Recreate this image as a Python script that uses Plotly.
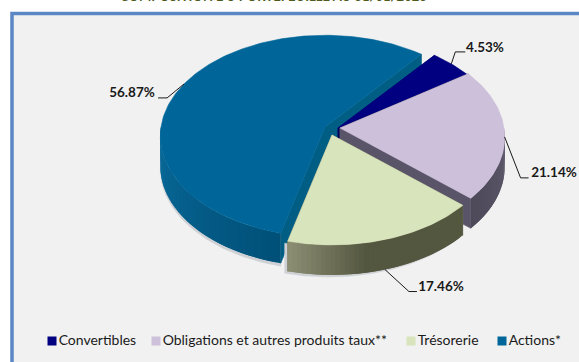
import math
import plotly.graph_objects as go

# Portfolio composition
categories = ["Convertibles", "Obligations et autres produits taux**", "Trésorerie", "Actions*"]
shares = [4.53, 21.14, 17.46, 56.87]
share_labels = ["4.53%", "21.14%", "17.46%", "56.87%"]
top_colors = ["#000080", "#CCC0DA", "#D8E4BC", "#006699"]

# Wall shading: (start, end) colours along the rim, and the flat radial wall colour
rim_shades = [("#000060", "#000050"), ("#5F596D", "#4E4A5A"), ("#54573F", "#8C8F74"), ("#005078", "#0A6C9C")]
radial_walls = ["#000060", "#5A5468", "#6F7158", "#005E85"]

# Pie geometry in page pixels
START_ANGLE = 39.0
RX, RY, PERSPECTIVE, DEPTH = 164, 100, 0.09, 30
apexes = [(338, 128), (340, 128), (332, 135), (325, 127)]

# Leader elbows and label anchors, in the same order as categories
leader_offsets = [[(4, -12), (14, -12)], [(16, 41), (24, 41)], [(24, 22), (32, 22)], [(-17, 14), (-26, 14)]]
label_pos = [(485, 49), (554, 174), (441, 288), (132, 94)]

legend_x = [52, 156, 411, 502]
LEGEND_Y = 341


def project(apex, angle_deg, z=0.0, radius=1.0):
    a = math.radians(angle_deg)
    u, v = radius * math.sin(a), radius * math.cos(a)
    s = 1 / (1 + PERSPECTIVE * v)
    return apex[0] + RX * u * s, apex[1] - RY * v * s + DEPTH * z


def arc(apex, a0, a1, z=0.0):
    n = max(2, int(abs(a1 - a0)))
    return [project(apex, a0 + (a1 - a0) * i / n, z) for i in range(n + 1)]


def mix(c0, c1, t):
    p = [int(c0[i:i + 2], 16) for i in (1, 3, 5)]
    q = [int(c1[i:i + 2], 16) for i in (1, 3, 5)]
    return "#%02X%02X%02X" % tuple(round(a + (b - a) * t) for a, b in zip(p, q))


fig = go.Figure()


def poly(points, color, line=0.6):
    xs = [p[0] for p in points]
    ys = [p[1] for p in points]
    fig.add_trace(go.Scatter(
        x=xs + xs[:1], y=ys + ys[:1], mode="lines", fill="toself", fillcolor=color,
        line=dict(color=color, width=line), hoverinfo="skip", showlegend=False,
    ))


def draw_slice(apex, a0, a1, index, shadow=None):
    # Soft offset silhouette under the slice
    if shadow:
        lo, hi = max(a0, 90), min(a1, 270)
        sh = (apex[0] + shadow[0], apex[1] + shadow[1])
        poly(arc(sh, lo, hi, 1.0) + arc(sh, hi, lo, 0.0), "#CDD0D4")

    top = apex
    bottom = (apex[0], apex[1] + DEPTH)
    # Radial walls first, so the rim and the top sit above them
    for angle in (a0, a1):
        poly([top, project(apex, angle), project(apex, angle, 1.0), bottom], radial_walls[index])

    # Rim strips for the part of the arc facing the viewer; each one overlaps the next
    lo, hi = max(a0, 90), min(a1, 270)
    if hi > lo:
        n = max(1, int((hi - lo) / 1.5))
        for i in range(n):
            s0 = lo + (hi - lo) * i / n
            s1 = min(hi, lo + (hi - lo) * (i + 2) / n)
            t = (i + 0.5) / n
            # the cash slice only lightens near its left end
            w = max(0.0, (t - 0.6) / 0.4) if index == 2 else t
            c = mix(rim_shades[index][0], rim_shades[index][1], w)
            poly([project(apex, s0), project(apex, s1), project(apex, s1, 1.0), project(apex, s0, 1.0)], c, line=0)

    poly([apex] + arc(apex, a0, a1), top_colors[index])


# Slice spans, clockwise from the start angle
spans = []
cursor = START_ANGLE
for value in shares:
    sweep = value / sum(shares) * 360
    spans.append((cursor, cursor + sweep))
    cursor += sweep

# Back-to-front painting order: equities, convertibles, bonds, cash
shadows = {3: (0, 3), 2: (-3, 2)}
for idx in (3, 0, 1, 2):
    draw_slice(apexes[idx], spans[idx][0], spans[idx][1], idx, shadows.get(idx))

# Leader lines start on the rim at each slice's mid angle
for idx in range(4):
    mid = sum(spans[idx]) / 2
    # front-facing slices leave from the lower rim edge
    z = 1.0 if 110 < (mid % 360) < 250 else 0.1 if 80 < (mid % 360) <= 110 else 0.0
    x0, y0 = project(apexes[idx], mid, z)
    xs = [x0] + [x0 + dx for dx, _ in leader_offsets[idx]]
    ys = [y0] + [y0 + dy for _, dy in leader_offsets[idx]]
    fig.add_trace(go.Scatter(x=xs, y=ys, mode="lines", line=dict(color="#1A1A1A", width=1),
                             hoverinfo="skip", showlegend=False))

# Value labels
fig.add_trace(go.Scatter(
    x=[p[0] for p in label_pos], y=[p[1] for p in label_pos], mode="text", text=share_labels,
    textposition="middle center", hoverinfo="skip", showlegend=False,
    textfont=dict(family="Lato", size=13.5, color="#1A1A1A", weight="bold"),
))

# Legend row: square swatch with its name alongside
fig.add_trace(go.Scatter(
    x=legend_x, y=[LEGEND_Y] * 4, mode="markers+text", text=categories, textposition="middle right",
    marker=dict(symbol="square", size=9, color=top_colors), hoverinfo="skip", showlegend=False,
    textfont=dict(family="Lato", size=14, color="#1A1A1A"),
))

fig.update_layout(
    width=579, height=362, margin=dict(l=0, r=0, t=0, b=0),
    paper_bgcolor="#FFFFFF", plot_bgcolor="#FFFFFF", showlegend=False,
    xaxis=dict(range=[0, 579], visible=False, fixedrange=True),
    yaxis=dict(range=[362, 0], visible=False, fixedrange=True),
    shapes=[dict(type="rect", xref="x", yref="y", x0=12, y0=13.5, x1=600, y1=400, layer="below",
                 fillcolor="#F1F1F1", line=dict(color="#5B87C5", width=3.5))],
    annotations=[dict(text="COMPOSITION DU PORTEFEUILLE AU 31/01/2023", xref="x", yref="paper", x=273, y=1,
                      yanchor="bottom", yshift=-6, showarrow=False,
                      font=dict(family="Lato", size=13, color="#4F5A1E", weight="bold"))],
)

fig.write_html("out.html")
